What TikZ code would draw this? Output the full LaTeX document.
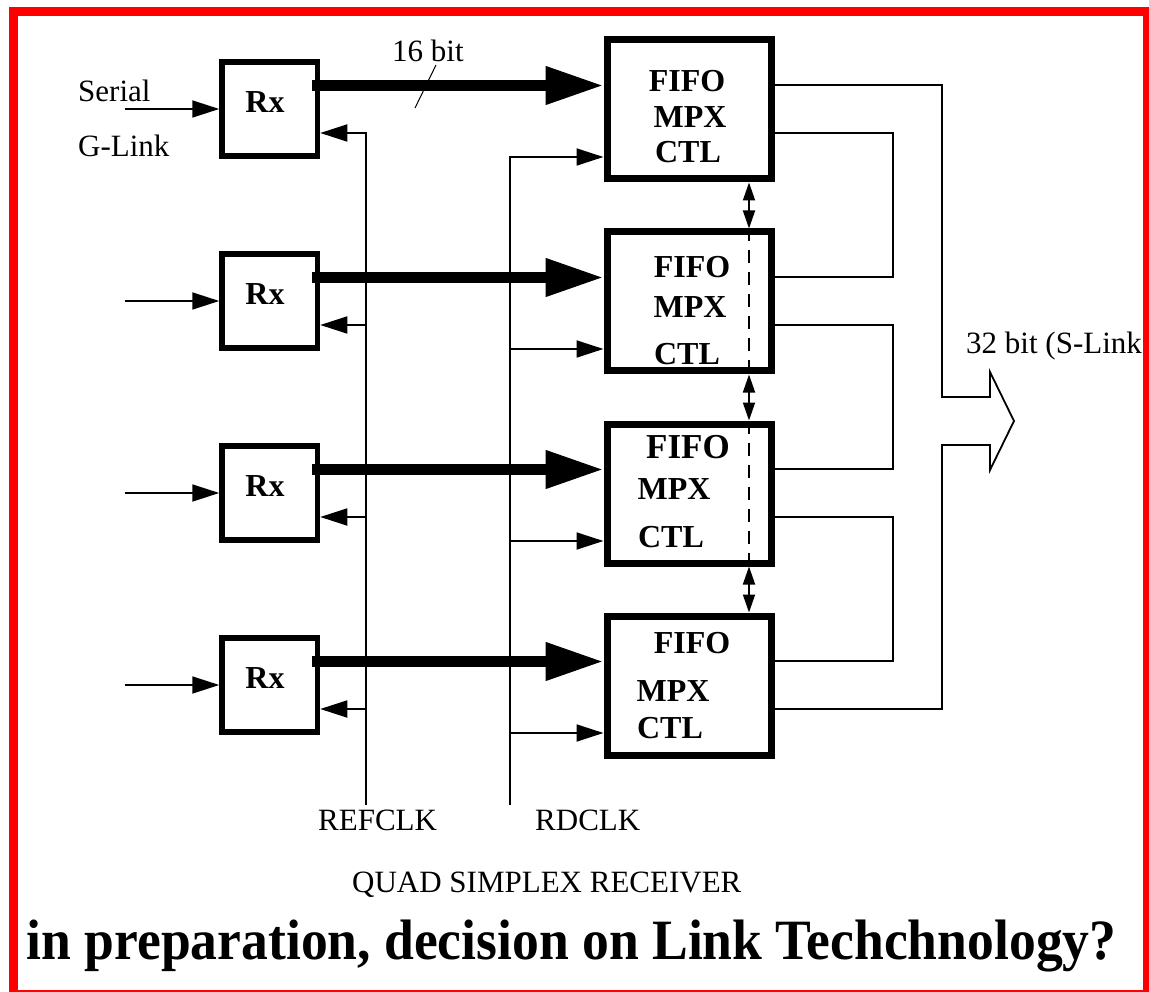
\documentclass[tikz,border=0pt]{standalone}
\usepackage{fontspec}
\setmainfont{Liberation Serif}
\usetikzlibrary{arrows.meta}
\tikzstyle{rxbox} = [rectangle, draw=black, line width=5.5pt, minimum width=95.5pt, minimum height=94pt, inner sep=0pt]
\tikzstyle{fifobox} = [rectangle, draw=black, line width=7pt, minimum width=164pt, minimum height=139pt, inner sep=0pt]
\tikzstyle{plain_text} = [inner sep=0pt, font=\fontsize{31}{36}\selectfont]
\tikzstyle{bold_text} = [inner sep=0pt, font=\fontsize{32}{36}\selectfont\bfseries]
\tikzstyle{bus} = [line width=10.5pt, -{Triangle[length=58pt,width=36pt]}]
\tikzstyle{clock} = [line width=1.8pt, -{Triangle[length=27pt,width=17pt]}]
\tikzstyle{wire} = [line width=1.8pt]
\tikzstyle{handshake} = [line width=1.8pt, {Triangle[length=18pt,width=12pt]}-{Triangle[length=18pt,width=12pt]}]
\tikzstyle{dashed_link} = [line width=2pt, dash pattern=on 13pt off 9pt]

\begin{document}
\begin{tikzpicture}[x=1pt, y=-1pt]

    \useasboundingbox (0,0) rectangle (1149,992);

    % receivers
    \node (rx1) [rxbox] at (269.75,109) {};
    \node (rx2) [rxbox] at (269.75,301) {};
    \node (rx3) [rxbox] at (269.75,493) {};
    \node (rx4) [rxbox] at (269.75,685) {};

    \node (rx1_t) [bold_text] at (265,102) {Rx};
    \node (rx2_t) [bold_text] at (265,294) {Rx};
    \node (rx3_t) [bold_text] at (265,486) {Rx};
    \node (rx4_t) [bold_text] at (265,678) {Rx};

    % fifos
    \node (fifo1) [fifobox] at (689,109.5) {};
    \node (fifo2) [fifobox] at (689,301.5) {};
    \node (fifo3) [fifobox] at (689,493.5) {};
    \node (fifo4) [fifobox] at (689,685.5) {};

    \node (fifo1_a) [bold_text] at (687,81) {FIFO};
    \node (fifo1_b) [bold_text] at (690,117) {MPX};
    \node (fifo1_c) [bold_text] at (688,152) {CTL};

    \node (fifo2_a) [bold_text] at (692,267) {FIFO};
    \node (fifo2_b) [bold_text] at (690,307) {MPX};
    \node (fifo2_c) [bold_text] at (687,354) {CTL};

    \node (fifo3_a) [bold_text, font=\fontsize{35}{36}\selectfont\bfseries] at (688,447) {FIFO};
    \node (fifo3_b) [bold_text] at (674,489) {MPX};
    \node (fifo3_c) [bold_text] at (671,537) {CTL};

    \node (fifo4_a) [bold_text] at (692,643) {FIFO};
    \node (fifo4_b) [bold_text] at (673,691) {MPX};
    \node (fifo4_c) [bold_text] at (670,728) {CTL};

    % serial inputs
    \draw [clock] ([xshift=-94pt]rx1.west) -- (rx1.west);
    \draw [clock] ([xshift=-94pt]rx2.west) -- (rx2.west);
    \draw [clock] ([xshift=-94pt]rx3.west) -- (rx3.west);
    \draw [clock] ([xshift=-94pt]rx4.west) -- (rx4.west);

    % 16 bit busses
    \draw [bus] ([xshift=-8pt, yshift=23.5pt]rx1.east) -- ([yshift=24pt]fifo1.west);
    \draw [bus] ([xshift=-8pt, yshift=23.5pt]rx2.east) -- ([yshift=24pt]fifo2.west);
    \draw [bus] ([xshift=-8pt, yshift=23.5pt]rx3.east) -- ([yshift=24pt]fifo3.west);
    \draw [bus] ([xshift=-8pt, yshift=23.5pt]rx4.east) -- ([yshift=24pt]fifo4.west);

    % clocks
    \coordinate (refclk) at (366,805);
    \coordinate (rdclk) at (510,805);

    \coordinate (rx2_ck) at ([yshift=-24pt]rx2.east);
    \coordinate (rx3_ck) at ([yshift=-24pt]rx3.east);
    \coordinate (rx4_ck) at ([yshift=-24pt]rx4.east);

    \draw [clock] (refclk) |- ([yshift=-24pt]rx1.east);
    \draw [clock] (refclk |- rx2_ck) -- (rx2_ck);
    \draw [clock] (refclk |- rx3_ck) -- (rx3_ck);
    \draw [clock] (refclk |- rx4_ck) -- (rx4_ck);

    \coordinate (fifo2_ck) at ([yshift=-47.5pt]fifo2.west);
    \coordinate (fifo3_ck) at ([yshift=-47.5pt]fifo3.west);
    \coordinate (fifo4_ck) at ([yshift=-47.5pt]fifo4.west);

    \draw [clock] (rdclk) |- ([yshift=-47.5pt]fifo1.west);
    \draw [clock] (rdclk |- fifo2_ck) -- (fifo2_ck);
    \draw [clock] (rdclk |- fifo3_ck) -- (fifo3_ck);
    \draw [clock] (rdclk |- fifo4_ck) -- (fifo4_ck);

    % fifo chain
    \draw [handshake] ([xshift=60pt]fifo1.south) -- ([xshift=60pt]fifo2.north);
    \draw [handshake] ([xshift=60pt]fifo2.south) -- ([xshift=60pt]fifo3.north);
    \draw [handshake] ([xshift=60pt]fifo3.south) -- ([xshift=60pt]fifo4.north);
    \draw [dashed_link] ([xshift=60pt]fifo2.north) -- ([xshift=60pt]fifo2.south);
    \draw [dashed_link] ([xshift=60pt]fifo3.north) -- ([xshift=60pt]fifo3.south);

    % outputs
    \coordinate (fifo1_oa) at ([yshift=24.5pt]fifo1.east);
    \coordinate (fifo1_ob) at ([yshift=-23.5pt]fifo1.east);
    \coordinate (fifo2_oa) at ([yshift=24.5pt]fifo2.east);
    \coordinate (fifo2_ob) at ([yshift=-23.5pt]fifo2.east);
    \coordinate (fifo3_oa) at ([yshift=24.5pt]fifo3.east);
    \coordinate (fifo3_ob) at ([yshift=-23.5pt]fifo3.east);
    \coordinate (fifo4_oa) at ([yshift=24.5pt]fifo4.east);
    \coordinate (fifo4_ob) at ([yshift=-23.5pt]fifo4.east);

    \draw [wire] (fifo1_ob) -- ++(118.5,0) |- (fifo2_oa);
    \draw [wire] (fifo2_ob) -- ++(118.5,0) |- (fifo3_oa);
    \draw [wire] (fifo3_ob) -- ++(118.5,0) |- (fifo4_oa);
    \draw [wire, line join=miter] (fifo1_oa) -- ++(167.5,0) -- ++(0,312) -- ++(48,0) -- ++(0,-25)
        -- ++(24,49) -- ++(-24,49) -- ++(0,-25) -- ++(-48,0) |- (fifo4_ob);

    % labels
    \node (serial) [plain_text, anchor=base west] at (78,102) {Serial};
    \node (glink) [plain_text, anchor=base west] at (78,157) {G-Link};
    \node (bits16) [plain_text, anchor=base west] at (392,62) {16 bit};
    \draw [line width=1pt] ([shift={(23,46)}]bits16.base west) -- ([shift={(44,3)}]bits16.base west);
    \node (bits32) [plain_text, anchor=base west] at (966,354) {32 bit (S-Link};
    \node (refclk_t) [plain_text, anchor=base west] at (318,830) {REFCLK};
    \node (rdclk_t) [plain_text, anchor=base west] at (535,830) {RDCLK};
    \node (title) [plain_text, anchor=base west] at (352,892) {QUAD SIMPLEX RECEIVER};
    \node (remark) [inner sep=0pt, anchor=base, xscale=0.94, font=\fontsize{57}{62}\selectfont\bfseries] at (571.5,959)
        {in preparation, decision on Link Techchnology?};

    % frame
    \draw [red, line width=9pt] (13.5,11.5) rectangle (1147.5,994.5);

\end{tikzpicture}
\end{document}
